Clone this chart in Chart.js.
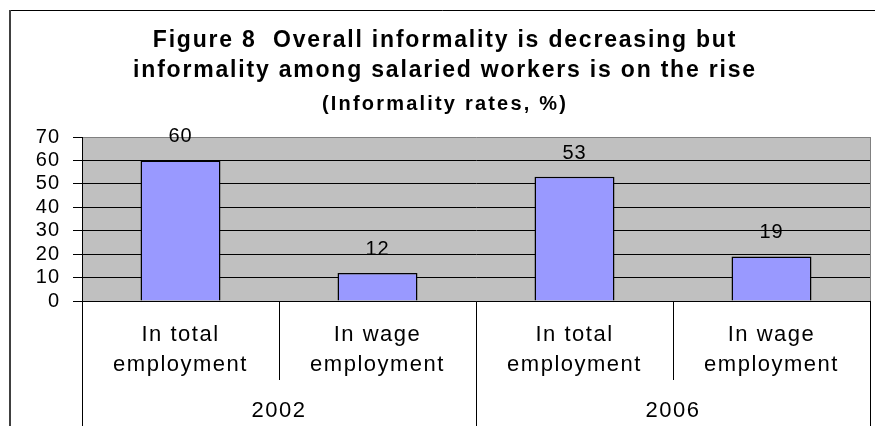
<!DOCTYPE html>
<html>
<head>
<meta charset="utf-8">
<script src="https://cdn.jsdelivr.net/npm/chart.js@4"></script>
<style>
  html, body { margin: 0; padding: 0; background: #fff; }
  #wrap { width: 875px; height: 426px; }
</style>
</head>
<body>
<div id="wrap"><canvas id="chart-informalidad" width="875" height="426"></canvas></div>
<script>
// ---- data ----
const years = ['2002', '2006'];
const categories = [
    ['In total', 'employment'],
    ['In wage', 'employment'],
    ['In total', 'employment'],
    ['In wage', 'employment']
];
const rates = [60, 12, 53, 19];
const yMin = 0;
const yMax = 70;
const yStep = 10;

const FONT = "'Liberation Sans', Arial, sans-serif";

// old Excel export spreads its letters out, so space them per font
const letterSpacing = {
    'b23': '1.8px',   // title
    'b20': '2.2px',   // subtitle
    'n22': '1.5px',   // category labels
    'n20': '1px'      // y ticks and value labels
};

const spacingPlugin = {
    id: 'spacing',
    beforeInit(chart) {
        const ctx = chart.ctx;
        const fill = ctx.fillText;
        ctx.fillText = function (text, x, y, maxWidth) {
            const m = /(\d+(?:\.\d+)?)px/.exec(this.font);
            const bold = /bold|700/.test(this.font) ? 'b' : 'n';
            const key = m ? bold + Math.round(parseFloat(m[1])) : '';
            this.letterSpacing = letterSpacing[key] || '0px';
            if (maxWidth === undefined) fill.call(this, text, x, y);
            else fill.call(this, text, x, y, maxWidth);
            this.letterSpacing = '0px';
        };
    }
};

// gray plot area + outer frame
const backgroundPlugin = {
    id: 'plotBackground',
    beforeDraw(chart) {
        const { ctx, chartArea: a } = chart;
        ctx.save();
        ctx.fillStyle = '#fff';
        ctx.fillRect(0, 0, chart.width, chart.height);

        ctx.fillStyle = '#c0c0c0';
        ctx.fillRect(a.left, a.top, a.right - a.left, a.bottom - a.top);
        ctx.strokeStyle = '#808080';
        ctx.lineWidth = 1;
        ctx.beginPath();
        ctx.moveTo(a.right + 0.5, a.top);
        ctx.lineTo(a.right + 0.5, a.bottom);
        ctx.stroke();

        ctx.strokeStyle = '#000';
        ctx.beginPath();
        ctx.moveTo(9.5, 10.5);
        ctx.lineTo(chart.width, 10.5);
        ctx.stroke();
        ctx.strokeStyle = '#404040';
        ctx.lineWidth = 2;
        ctx.beginPath();
        ctx.moveTo(10, 10);
        ctx.lineTo(10, chart.height);
        ctx.stroke();
        ctx.restore();
    }
};

// value above each bar
const valueLabels = {
    id: 'valueLabels',
    afterDatasetsDraw(chart) {
        const { ctx } = chart;
        const meta = chart.getDatasetMeta(0);
        ctx.save();
        ctx.font = '20px ' + FONT;
        ctx.fillStyle = '#000';
        ctx.textAlign = 'center';
        ctx.textBaseline = 'alphabetic';
        meta.data.forEach((bar, i) => {
            ctx.fillText(String(rates[i]), bar.x, bar.y - 18);
        });
        ctx.restore();
    }
};

const ctxInf = document.getElementById('chart-informalidad').getContext('2d');

new Chart(ctxInf, {
    type: 'bar',
    data: {
        labels: categories,
        datasets: [{
            data: rates,
            backgroundColor: '#9999ff',
            borderColor: '#000',
            borderWidth: 1.5,
            barPercentage: 0.406,
            categoryPercentage: 1
        }]
    },
    options: {
        responsive: false,
        animation: false,
        layout: { padding: { left: 20, right: 5, top: 0, bottom: 0 } },
        plugins: {
            legend: { display: false },
            tooltip: { enabled: false },
            title: {
                display: true,
                text: ['Figure 8  Overall informality is decreasing but',
                       'informality among salaried workers is on the rise'],
                color: '#000',
                font: { family: FONT, size: 23, weight: 'bold', lineHeight: '30px' },
                padding: { top: 26, bottom: 4 }
            },
            subtitle: {
                display: true,
                text: '(Informality rates, %)',
                color: '#000',
                font: { family: FONT, size: 20, weight: 'bold', lineHeight: '20px' },
                padding: { top: 4, bottom: 23 }
            }
        },
        scales: {
            y: {
                min: yMin,
                max: yMax,
                ticks: {
                    stepSize: yStep,
                    autoSkip: false,
                    color: '#000',
                    padding: 13,
                    font: { family: FONT, size: 20 }
                },
                grid: {
                    color: (c) => (c.tick && c.tick.value === yMax ? '#808080' : '#000'),
                    tickColor: '#000',
                    tickLength: 9
                },
                border: { color: '#000' },
                afterFit(scale) { scale.width = 62; }
            },
            x: {
                ticks: {
                    color: '#000',
                    padding: -60,
                    maxRotation: 0,
                    autoSkip: false,
                    font: { family: FONT, size: 22, lineHeight: '30px' }
                },
                grid: {
                    offset: true,
                    drawOnChartArea: false,
                    color: '#000',
                    tickLength: 79
                },
                border: { color: '#000' },
                afterFit(scale) { scale.height = 79; }
            },
            x2: {
                type: 'category',
                labels: years,
                position: 'bottom',
                offset: true,
                ticks: {
                    color: '#000',
                    padding: -42,
                    maxRotation: 0,
                    font: { family: FONT, size: 22 }
                },
                grid: {
                    offset: true,
                    drawOnChartArea: false,
                    color: '#000',
                    tickLength: 60
                },
                border: { display: false },
                afterFit(scale) { scale.height = 46; }
            }
        }
    },
    plugins: [spacingPlugin, backgroundPlugin, valueLabels]
});
</script>
</body>
</html>
